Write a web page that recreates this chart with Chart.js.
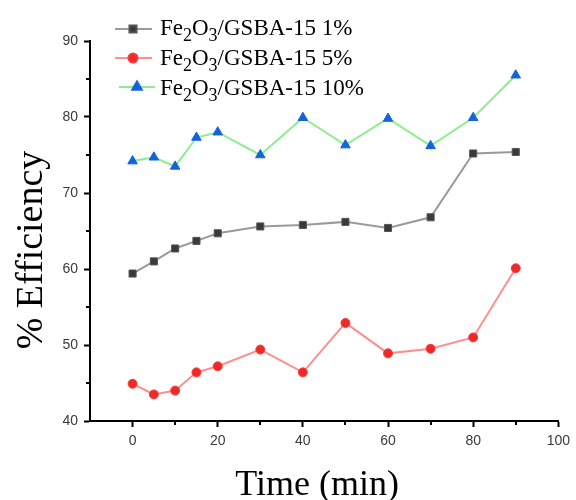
<!DOCTYPE html>
<html><head><meta charset="utf-8">
<script src="https://cdn.jsdelivr.net/npm/chart.js@4.4.1/dist/chart.umd.min.js"></script>
<style>html,body{margin:0;padding:0;background:#fff}#wrap{width:576px;height:500px}</style>
</head><body><div id="wrap"><canvas id="c" width="576" height="500"></canvas></div>
<script>
const timeMin = [0, 5, 10, 15, 20, 30, 40, 50, 60, 70, 80, 90];
const eff1 = [59.4, 61.0, 62.7, 63.7, 64.7, 65.6, 65.8, 66.2, 65.4, 66.8, 75.2, 75.4];
const eff5 = [44.9, 43.5, 44.0, 46.4, 47.2, 49.4, 46.4, 52.9, 48.9, 49.5, 51.0, 60.1];
const eff10 = [74.2, 74.7, 73.5, 77.3, 78.0, 75.0, 79.9, 76.3, 79.8, 76.2, 79.9, 85.5];
const seriesNames = ['Fe₂O₃/GSBA-15 1%', 'Fe₂O₃/GSBA-15 5%', 'Fe₂O₃/GSBA-15 10%'];
const xTickValues = [0, 20, 40, 60, 80, 100];
const xMinorTicks = [10, 30, 50, 70, 90];
const yTickValues = [40, 50, 60, 70, 80, 90];
const yMinorTicks = [45, 55, 65, 75, 85];
const xTitle = 'Time (min)';
const yTitle = '% Efficiency';

const pts = v => timeMin.map((t, i) => ({x: t, y: v[i]}));

const SERIF = '"Liberation Serif", "Times New Roman", serif';
const SANS = '"Liberation Sans", Arial, sans-serif';
const SUBS = {'₂': '2', '₃': '3'};

function drawRich(ctx, text, x, baseline, size) {
  let cx = x;
  for (const ch of text) {
    if (SUBS[ch]) {
      ctx.font = Math.round(size * 0.8) + 'px ' + SERIF;
      ctx.fillText(SUBS[ch], cx, baseline + size * 0.28);
      cx += ctx.measureText(SUBS[ch]).width;
    } else {
      ctx.font = size + 'px ' + SERIF;
      ctx.fillText(ch, cx, baseline);
      cx += ctx.measureText(ch).width;
    }
  }
}

const decor = {
  id: 'decor',
  afterDraw(chart) {
    const ctx = chart.ctx;
    const xs = chart.scales.x, ys = chart.scales.y;
    const area = chart.chartArea;
    ctx.save();
    // minor ticks
    ctx.strokeStyle = '#000';
    ctx.lineWidth = 2;
    ctx.beginPath();
    xMinorTicks.forEach(v => {
      const px = Math.round(xs.getPixelForValue(v));
      ctx.moveTo(px, area.bottom); ctx.lineTo(px, area.bottom + 4);
    });
    yMinorTicks.forEach(v => {
      const py = Math.round(ys.getPixelForValue(v));
      ctx.moveTo(area.left, py); ctx.lineTo(area.left - 4, py);
    });
    ctx.stroke();
    // axis titles
    ctx.fillStyle = '#000';
    ctx.textBaseline = 'alphabetic';
    ctx.textAlign = 'center';
    ctx.font = '36px ' + SERIF;
    ctx.fillText(xTitle, (area.left + area.right) / 2 - 7, 495);
    ctx.save();
    ctx.translate(42, 250);
    ctx.rotate(-Math.PI / 2);
    ctx.font = '38px ' + SERIF;
    ctx.fillText(yTitle, 0, 0);
    ctx.restore();
    // legend
    ctx.textAlign = 'left';
    const rows = [
      {l0: 115, l1: 152, m: 133, y: 29, base: 35},
      {l0: 115, l1: 152, m: 133, y: 58, base: 65},
      {l0: 119, l1: 155, m: 137, y: 87, base: 95}
    ];
    chart.data.datasets.forEach((ds, i) => {
      const r = rows[i];
      ctx.strokeStyle = ds.borderColor;
      ctx.lineWidth = ds.borderWidth;
      ctx.beginPath(); ctx.moveTo(r.l0, r.y); ctx.lineTo(r.l1, r.y); ctx.stroke();
      ctx.fillStyle = ds.pointBackgroundColor;
      ctx.strokeStyle = ds.pointBorderColor;
      Chart.helpers.drawPoint(ctx, {pointStyle: ds.pointStyle, radius: ds.pointRadius, rotation: 0, borderWidth: ds.pointBorderWidth}, r.m, r.y);
      ctx.fillStyle = '#000';
      drawRich(ctx, ds.label, 160, r.base, 23);
    });
    ctx.restore();
  }
};

new Chart(document.getElementById('c'), {
  type: 'line',
  data: {
    datasets: [
      {label: seriesNames[0], data: pts(eff1), borderColor: '#9a9a9a', borderWidth: 2,
       pointStyle: 'rect', pointRadius: 5, pointBackgroundColor: '#3a3a3a', pointBorderColor: '#555', pointBorderWidth: 1},
      {label: seriesNames[1], data: pts(eff5), borderColor: '#ff8e8e', borderWidth: 2,
       pointStyle: 'circle', pointRadius: 4.5, pointBackgroundColor: '#f02828', pointBorderColor: '#f04040', pointBorderWidth: 1},
      {label: seriesNames[2], data: pts(eff10), borderColor: '#8cee8c', borderWidth: 2,
       pointStyle: 'triangle', pointRadius: 5.5, pointBackgroundColor: '#1463dc', pointBorderColor: '#1463dc', pointBorderWidth: 1}
    ]
  },
  options: {
    responsive: false,
    animation: false,
    devicePixelRatio: 1,
    layout: {padding: {top: 41, right: 14, bottom: 0, left: 0}},
    plugins: {legend: {display: false}, tooltip: {enabled: false}},
    elements: {line: {tension: 0}},
    scales: {
      x: {
        type: 'linear', min: -10, max: 100,
        afterBuildTicks: s => { s.ticks = xTickValues.map(v => ({value: v})); },
        afterFit: s => { s.height = 79; },
        grid: {drawOnChartArea: false, tickLength: 6, tickColor: '#000', tickWidth: 2},
        border: {display: true, color: '#000', width: 2},
        ticks: {font: {family: SANS, size: 14}, color: '#3a3a3a', padding: 6, maxRotation: 0}
      },
      y: {
        type: 'linear', min: 40, max: 90,
        afterBuildTicks: s => { s.ticks = yTickValues.map(v => ({value: v})); },
        afterFit: s => { s.width = 90; },
        grid: {drawOnChartArea: false, tickLength: 6, tickColor: '#000', tickWidth: 2},
        border: {display: true, color: '#000', width: 2},
        ticks: {font: {family: SANS, size: 14}, color: '#3a3a3a', padding: 6}
      }
    }
  },
  plugins: [decor]
});
</script>
</body></html>
